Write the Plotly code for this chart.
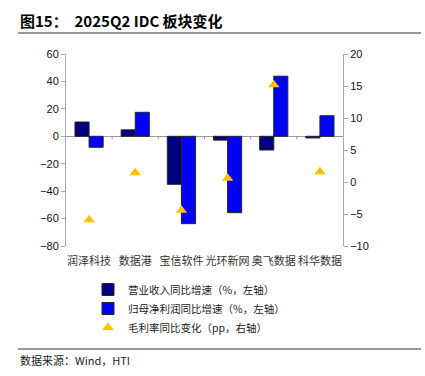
import plotly.graph_objects as go

categories = ["润泽科技", "数据港", "宝信软件", "光环新网", "奥飞数据", "科华数据"]
revenue_yoy = [10.4, 4.7, -35.0, -2.8, -10.0, -1.2]
profit_yoy = [-8.0, 17.5, -63.7, -55.7, 43.8, 15.0]
margin_chg = [-5.9, 1.45, -4.4, 0.6, 15.2, 1.6]

names = ["营业收入同比增速（%，左轴）", "归母净利润同比增速（%，左轴）", "毛利率同比变化（pp，右轴）"]
left_ticks = [60, 40, 20, 0, -20, -40, -60, -80]
right_ticks = [20, 15, 10, 5, 0, -5, -10]

L, R, T, B = 66, 82, 54, 130
W, H = 425, 376
pw, ph = W - L - R, H - T - B

def px(x):
    return (x - L) / pw

def py(y):
    return (H - B - y) / ph

cjk = "Noto Sans CJK SC"
num = "Liberation Sans, Arial"

fig = go.Figure()
fig.add_trace(go.Bar(x=categories, y=revenue_yoy, name=names[0],
                     marker=dict(color="#000080", line=dict(color="#222222", width=1))))
fig.add_trace(go.Bar(x=categories, y=profit_yoy, name=names[1],
                     marker=dict(color="#0000FF", line=dict(color="#222222", width=1))))
fig.add_trace(go.Scatter(x=categories, y=margin_chg, name=names[2], yaxis="y2", mode="markers",
                         marker=dict(symbol="triangle-up", size=10, color="#FFC000")))

shapes = []
for i in range(1, len(categories)):
    shapes.append(dict(type="line", xref="x", yref="y", x0=i - 0.5, x1=i - 0.5, y0=0, y1=-2.2,
                       line=dict(color="#999999", width=1)))
shapes.append(dict(type="line", xref="paper", yref="paper", x0=px(18), x1=px(421), y0=py(33), y1=py(33),
                   line=dict(color="#333333", width=1.2)))
shapes.append(dict(type="line", xref="paper", yref="paper", x0=px(18), x1=px(421), y0=py(349), y1=py(349),
                   line=dict(color="#333333", width=1.2)))

fig.update_layout(
    width=W, height=H,
    margin=dict(l=L, r=R, t=T, b=B),
    paper_bgcolor="white", plot_bgcolor="white",
    barmode="group", bargap=0.39, bargroupgap=0,
    showlegend=True,
    legend=dict(x=px(88), y=py(275), xanchor="left", yanchor="top", orientation="v",
                font=dict(family=cjk, size=10.5, color="#222222"), itemwidth=30,
                tracegroupgap=0, bgcolor="rgba(0,0,0,0)"),
    xaxis=dict(type="category", showline=False, ticks="", showgrid=False, ticklabelstandoff=7,
               tickfont=dict(family=cjk, size=11, color="#333333")),
    yaxis=dict(range=[-80, 60], tickvals=left_ticks, showgrid=False, showline=True,
               linecolor="#AAAAAA", linewidth=1, ticks="outside", ticklen=4, tickcolor="#AAAAAA",
               zeroline=True, zerolinecolor="#999999", zerolinewidth=1,
               tickfont=dict(family=num, size=11, color="#111111")),
    yaxis2=dict(range=[-10, 20], tickvals=right_ticks, overlaying="y", side="right", showgrid=False,
                showline=True, linecolor="#AAAAAA", linewidth=1, ticks="outside", ticklen=4,
                tickcolor="#AAAAAA", zeroline=False,
                tickfont=dict(family=num, size=11, color="#111111")),
    shapes=shapes,
    annotations=[
        dict(text="<b>图15：  2025Q2 IDC 板块变化</b>", xref="paper", yref="paper", x=px(18), y=py(20),
             xanchor="left", yanchor="middle", showarrow=False,
             font=dict(family=cjk, size=15, color="#000000")),
        dict(text="数据来源：Wind，HTI", xref="paper", yref="paper", x=px(18), y=py(360),
             xanchor="left", yanchor="middle", showarrow=False,
             font=dict(family=cjk, size=11, color="#222222")),
    ],
)

fig.write_html("out.html", config={"displayModeBar": False},
               post_script="document.body.style.margin='0';")
